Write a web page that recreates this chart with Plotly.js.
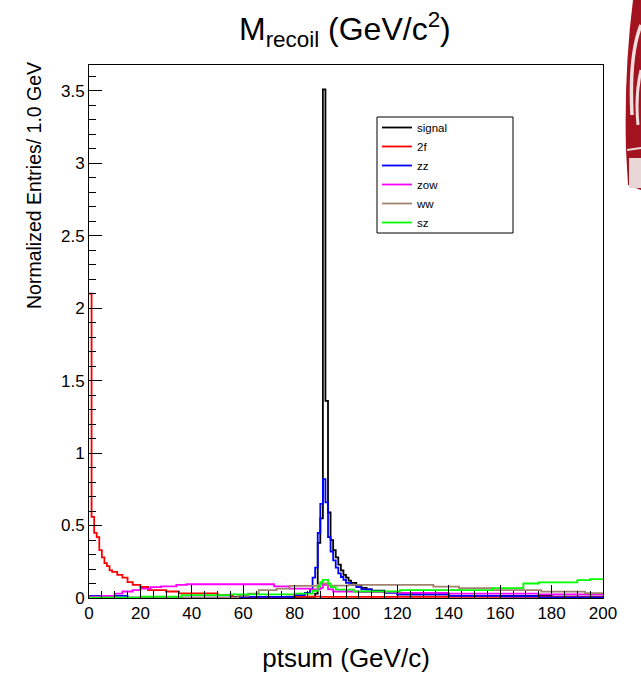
<!DOCTYPE html>
<html>
<head>
<meta charset="utf-8">
<script src="https://cdn.plot.ly/plotly-3.0.1.min.js"></script>
<style>
  html, body { margin: 0; padding: 0; background: #ffffff; }
  #chart { width: 641px; height: 682px; }
</style>
</head>
<body>
<div id="chart"></div>
<script>
// ---- data (bin edges and bin contents) ----
const seriesNames = ["signal", "2f", "zz", "zow", "ww", "sz"];

const signalEdges = [0, 55, 88, 89, 90, 91, 92, 93, 94, 95, 96, 97, 98, 99, 100, 101, 102, 104, 106, 108, 110, 115, 120, 140, 180, 200];
const signalValues = [0, 0.008, 0.03, 0.38, 0.55, 3.51, 1.36, 0.59, 0.40, 0.33, 0.28, 0.23, 0.19, 0.16, 0.14, 0.12, 0.105, 0.085, 0.07, 0.06, 0.05, 0.04, 0.025, 0.015, 0.01];

const f2Edges = [0, 1, 2, 3, 4, 5, 6, 7, 8, 9, 11, 13, 15, 17, 20, 23, 30, 35, 50, 56, 77, 90, 200];
const f2Values = [2.10, 0.56, 0.45, 0.42, 0.33, 0.28, 0.24, 0.22, 0.19, 0.18, 0.16, 0.14, 0.11, 0.09, 0.076, 0.055, 0.045, 0.032, 0.02, 0.003, 0.01, 0.008];

const zzEdges = [0, 15, 60, 80, 84, 86, 87, 88, 89, 90, 91, 92, 93, 94, 95, 96, 97, 98, 99, 100, 102, 104, 106, 110, 115, 120, 140, 160, 175, 200];
const zzValues = [0.015, 0.003, 0.008, 0.02, 0.035, 0.06, 0.14, 0.21, 0.45, 0.65, 0.82, 0.66, 0.42, 0.32, 0.26, 0.21, 0.17, 0.145, 0.125, 0.105, 0.09, 0.075, 0.06, 0.045, 0.035, 0.025, 0.015, 0.012, 0.005];

const zowEdges = [0, 5, 10, 13, 17, 20, 24, 28, 34, 38, 72, 78, 86, 90, 91, 93, 95, 105, 120, 140, 175, 200];
const zowValues = [0.01, 0.015, 0.03, 0.045, 0.055, 0.065, 0.075, 0.08, 0.09, 0.095, 0.08, 0.065, 0.06, 0.07, 0.09, 0.06, 0.045, 0.04, 0.035, 0.03, 0.025];

const wwEdges = [0, 58, 62, 66, 73, 78, 89, 90, 93, 101, 115, 121, 134, 144, 157, 176, 193, 200];
const wwValues = [0.002, 0.015, 0.03, 0.055, 0.065, 0.083, 0.09, 0.10, 0.085, 0.09, 0.09, 0.09, 0.078, 0.068, 0.055, 0.044, 0.033];

const szEdges = [0, 20, 36, 55, 80, 87, 89, 90, 91, 93, 94, 96, 103, 121, 157, 169, 175, 190, 195, 200];
const szValues = [0.003, 0.01, 0.02, 0.025, 0.03, 0.05, 0.08, 0.11, 0.125, 0.10, 0.075, 0.058, 0.045, 0.055, 0.068, 0.10, 0.108, 0.124, 0.13];

const xTickVals = [0, 20, 40, 60, 80, 100, 120, 140, 160, 180, 200];
const yTickVals = [0, 0.5, 1, 1.5, 2, 2.5, 3, 3.5];
const yTickText = ["0", "0.5", "1", "1.5", "2", "2.5", "3", "3.5"];

// ---- build step traces ----
const colors = ["#000000", "#ff0000", "#0000ff", "#ff00ff", "#a0826e", "#00ff00"];
const edgeSets = [signalEdges, f2Edges, zzEdges, zowEdges, wwEdges, szEdges];
const valueSets = [signalValues, f2Values, zzValues, zowValues, wwValues, szValues];

function stepTrace(name, edges, vals, color) {
  const y = vals.slice();
  y.push(vals[vals.length - 1]);
  return {
    type: "scatter", mode: "lines", name: name,
    x: edges, y: y,
    line: { shape: "hv", color: color, width: 1.8 },
    hoverinfo: "skip"
  };
}
const traces = seriesNames.map((n, i) => stepTrace(n, edgeSets[i], valueSets[i], colors[i]));

// plot box in pixels
const L = 89, R = 603, T = 65, B = 598, W = 641, H = 682;
const xp = px => (px - L) / (R - L);
const yp = py => (B - py) / (B - T);

const font = "Liberation Sans, Arial, Helvetica, sans-serif";

const shapes = [
  // legend box
  { type: "rect", xref: "paper", yref: "paper", x0: xp(377), x1: xp(513), y0: yp(233), y1: yp(117),
    line: { color: "#000", width: 1 }, fillcolor: "rgba(255,255,255,0)" },
  // logo fragment on the right edge
  { type: "path", xref: "paper", yref: "paper", layer: "above",
    path: `M ${xp(633)} ${yp(0)} Q ${xp(624)} ${yp(70)} ${xp(626)} ${yp(150)} L ${xp(628)} ${yp(185)} L ${xp(641)} ${yp(190)} L ${xp(641)} ${yp(0)} Z`,
    fillcolor: "#a3131f", line: { width: 0 } },
  { type: "path", xref: "paper", yref: "paper", layer: "above",
    path: `M ${xp(641)} ${yp(25)} Q ${xp(629)} ${yp(55)} ${xp(632)} ${yp(115)}`,
    line: { color: "#f3dede", width: 3.5 } },
  { type: "path", xref: "paper", yref: "paper", layer: "above",
    path: `M ${xp(641)} ${yp(70)} Q ${xp(635)} ${yp(95)} ${xp(638)} ${yp(125)}`,
    line: { color: "#f3dede", width: 3 } },
  { type: "line", xref: "paper", yref: "paper", layer: "above",
    x0: xp(627), x1: xp(641), y0: yp(150), y1: yp(148), line: { color: "#eadada", width: 2 } },
  { type: "rect", xref: "paper", yref: "paper", layer: "above",
    x0: xp(629), x1: xp(641), y0: yp(188), y1: yp(158), fillcolor: "#e9d6d6", line: { width: 0 } }
];

const layout = {
  width: W, height: H,
  margin: { l: L, r: W - R, t: T, b: H - B },
  paper_bgcolor: "#ffffff", plot_bgcolor: "#ffffff",
  showlegend: true,
  legend: {
    x: xp(377), y: yp(113), xanchor: "left", yanchor: "top",
    bgcolor: "rgba(0,0,0,0)", borderwidth: 0,
    font: { family: font, size: 11.5, color: "#000" },
    itemwidth: 30, tracegroupgap: 0
  },
  xaxis: {
    range: [0, 200], showgrid: false, zeroline: false,
    showline: true, linecolor: "#000", linewidth: 1, mirror: true,
    ticks: "inside", ticklen: 13, tickcolor: "#000", tickwidth: 1,
    tickvals: xTickVals,
    tickfont: { family: font, size: 17, color: "#000" },
    minor: { dtick: 5, ticks: "inside", ticklen: 7, tickcolor: "#000", showgrid: false },
    title: { text: "ptsum (GeV/c)", font: { family: font, size: 26, color: "#000" }, standoff: 26 }
  },
  yaxis: {
    range: [0, 3.678], showgrid: false, zeroline: false,
    showline: true, linecolor: "#000", linewidth: 1, mirror: true,
    ticks: "inside", ticklen: 13, tickcolor: "#000", tickwidth: 1,
    tickvals: yTickVals, ticktext: yTickText,
    tickfont: { family: font, size: 17, color: "#000" },
    minor: { dtick: 0.1, ticks: "inside", ticklen: 7, tickcolor: "#000", showgrid: false }
  },
  shapes: shapes,
  annotations: [
    { xref: "paper", yref: "paper", x: xp(345), y: yp(30), xanchor: "center", yanchor: "middle",
      text: "M<sub>recoil</sub> (GeV/c<sup>2</sup>)", showarrow: false,
      font: { family: font, size: 32, color: "#000" } },
    { xref: "paper", yref: "paper", x: xp(34), y: yp(186), xanchor: "center", yanchor: "middle",
      text: "Normalized Entries/ 1.0 GeV", textangle: -90, showarrow: false,
      font: { family: font, size: 19.5, color: "#000" } }
  ]
};

Plotly.newPlot("chart", traces, layout, { staticPlot: true, displayModeBar: false });
</script>
</body>
</html>
